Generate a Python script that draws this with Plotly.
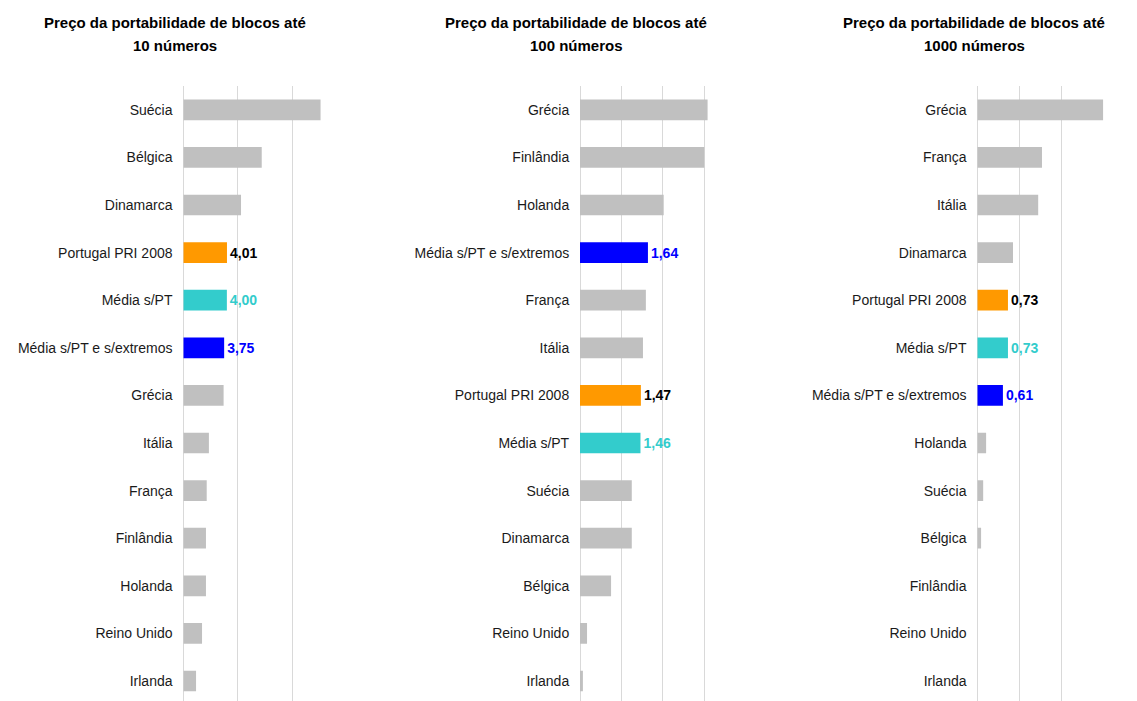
import plotly.graph_objects as go

# ---- Data ----
title_line1 = "Preço da portabilidade de blocos até"
title_line2 = ["10 números", "100 números", "1000 números"]

cats_10 = ["Suécia", "Bélgica", "Dinamarca", "Portugal PRI 2008", "Média s/PT",
           "Média s/PT e s/extremos", "Grécia", "Itália", "França", "Finlândia",
           "Holanda", "Reino Unido", "Irlanda"]
vals_10 = [12.6, 7.2, 5.3, 4.01, 4.00, 3.75, 3.7, 2.35, 2.15, 2.08, 2.08, 1.72, 1.17]

cats_100 = ["Grécia", "Finlândia", "Holanda", "Média s/PT e s/extremos", "França",
            "Itália", "Portugal PRI 2008", "Média s/PT", "Suécia", "Dinamarca",
            "Bélgica", "Reino Unido", "Irlanda"]
vals_100 = [3.08, 3.00, 2.02, 1.64, 1.59, 1.52, 1.47, 1.46, 1.25, 1.25, 0.75, 0.17, 0.07]

cats_1000 = ["Grécia", "França", "Itália", "Dinamarca", "Portugal PRI 2008",
             "Média s/PT", "Média s/PT e s/extremos", "Holanda", "Suécia", "Bélgica",
             "Finlândia", "Reino Unido", "Irlanda"]
vals_1000 = [3.0, 1.54, 1.45, 0.85, 0.73, 0.73, 0.61, 0.21, 0.14, 0.09, 0.0, 0.0, 0.0]

x_ranges = [[0, 15], [0, 4], [0, 3]]
x_dtick = [5, 1, 1]

# ---- Styles ----
FONT = "Liberation Sans, Arial, sans-serif"
GRAY = "#C0C0C0"
highlight = {
    "Portugal PRI 2008": ("#FF9900", "#000000"),
    "Média s/PT": ("#33CCCC", "#33CCCC"),
    "Média s/PT e s/extremos": ("#0000FF", "#0000FF"),
}

OFF = 8  # page body margin
W, H = 1137 - OFF, 701 - OFF
TOP = 86 - OFF


def px_x(px):
    return (px - OFF) / W


def px_y(py):
    return 1 + (TOP - (py - OFF)) / (H - TOP)


domains = [[px_x(183.3), px_x(346.7)], [px_x(580.0), px_x(745.7)], [px_x(977.3), px_x(1103.3)]]
title_cx = [175, 576, 974]

fig = go.Figure()
panels = [(cats_10, vals_10), (cats_100, vals_100), (cats_1000, vals_1000)]
for i, (cats, vals) in enumerate(panels):
    colors, texts, tcolors = [], [], []
    for c, v in zip(cats, vals):
        if c in highlight:
            colors.append(highlight[c][0])
            tcolors.append(highlight[c][1])
            texts.append("<b>" + f"{v:.2f}".replace(".", ",") + "</b>")
        else:
            colors.append(GRAY)
            tcolors.append("#000000")
            texts.append("")
    sfx = "" if i == 0 else str(i + 1)
    fig.add_trace(go.Bar(
        y=cats, x=vals, orientation="h",
        marker=dict(color=colors, line=dict(width=0)),
        text=texts, textposition="outside", cliponaxis=False,
        constraintext="none",
        textfont=dict(family=FONT, size=14, color=tcolors),
        xaxis="x" + sfx, yaxis="y" + sfx, showlegend=False, hoverinfo="x+y",
    ))
    fig.layout["xaxis" + sfx] = dict(
        domain=domains[i], range=x_ranges[i], dtick=x_dtick[i], tick0=0,
        showgrid=True, gridcolor="#D9D9D9", gridwidth=1,
        zeroline=True, zerolinecolor="#D9D9D9", zerolinewidth=1,
        showline=False, showticklabels=False, ticks="",
        anchor="y" + sfx, fixedrange=True,
    )
    fig.layout["yaxis" + sfx] = dict(
        domain=[0, 1], range=[12.42, -0.5],
        categoryorder="array", categoryarray=cats,
        showgrid=False, zeroline=False, showline=False,
        ticks="outside", ticklen=7, tickcolor="rgba(0,0,0,0)",
        tickfont=dict(family=FONT, size=14, color="#1a1a1a"),
        anchor="x" + sfx, fixedrange=True,
    )
    for txt, py in ((title_line1, 22.5), (title_line2[i], 45)):
        fig.add_annotation(
            x=px_x(title_cx[i]), y=px_y(py), xref="paper", yref="paper",
            text="<b>" + txt + "</b>", showarrow=False,
            font=dict(family=FONT, size=15, color="#000000"),
            xanchor="center", yanchor="middle",
        )

fig.update_layout(
    width=W, height=H,
    margin=dict(l=0, r=0, t=TOP, b=0),
    paper_bgcolor="white", plot_bgcolor="white",
    bargap=0.565,
)

fig.write_html("out.html")
